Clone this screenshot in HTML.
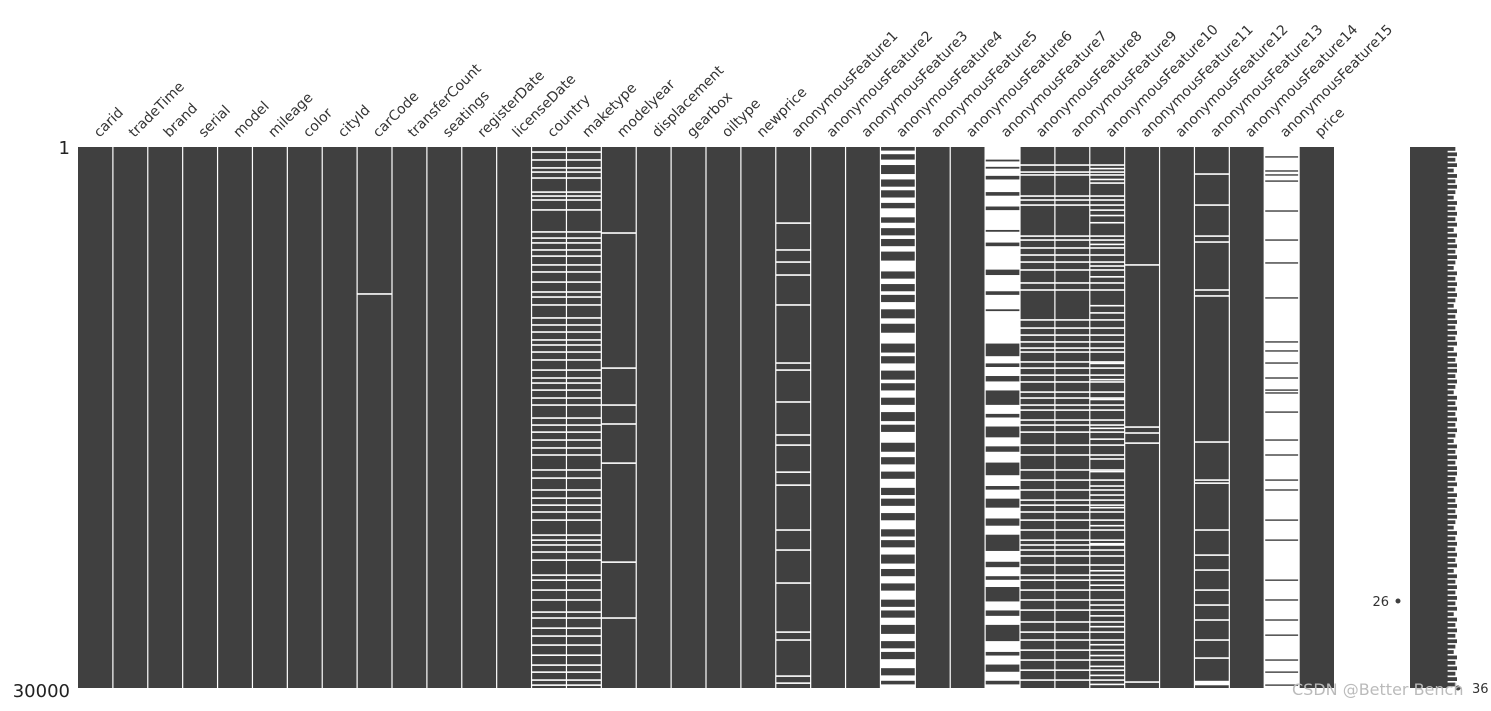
<!DOCTYPE html>
<html><head><meta charset="utf-8"><style>
body{margin:0;background:#fff;}
svg text{font-family:"DejaVu Sans","Liberation Sans",sans-serif;}
</style></head><body>
<svg id="chart" width="1491" height="706" viewBox="0 0 1491 706" xmlns="http://www.w3.org/2000/svg"></svg>
<script>
const columns=["carid","tradeTime","brand","serial","model","mileage","color","cityId","carCode","transferCount","seatings","registerDate","licenseDate","country","maketype","modelyear","displacement","gearbox","oiltype","newprice","anonymousFeature1","anonymousFeature2","anonymousFeature3","anonymousFeature4","anonymousFeature5","anonymousFeature6","anonymousFeature7","anonymousFeature8","anonymousFeature9","anonymousFeature10","anonymousFeature11","anonymousFeature12","anonymousFeature13","anonymousFeature14","anonymousFeature15","price"];
const totalRowsK=30;
const carCodeMissing=[8.15];
const countryMissing=[0.28,0.72,1.16,1.39,1.72,2.5,2.72,2.94,3.49,4.71,5.05,5.32,5.71,6.05,6.54,6.93,7.49,8.04,8.32,8.76,9.48,9.87,10.26,10.7,10.98,11.37,11.81,12.37,12.81,13.09,13.48,13.92,14.31,15.03,15.42,15.81,16.25,16.69,17.08,17.91,18.36,19.02,19.47,19.86,20.24,20.69,21.52,21.8,22.07,22.46,22.91,23.74,24.02,24.57,25.12,25.79,26.12,26.68,27.12,27.62,28.18,28.73,29.12,29.56,29.84];
const modelyearMissing=[4.77,12.26,14.31,15.36,17.53,23.02,26.12];
const af1Missing=[4.22,5.71,6.38,7.1,8.76,11.98,12.37,14.14,15.97,16.53,18.03,18.75,21.24,22.35,24.18,26.9,27.34,29.34,29.73];
const af7Missing=[1.0,1.39,1.55,2.72,2.94,3.22,4.94,5.16,5.6,5.99,6.38,6.82,7.54,7.93,9.59,10.04,10.43,10.81,11.15,11.37,11.92,12.26,12.65,13.03,13.59,13.92,14.31,14.59,15.14,15.42,15.81,16.53,17.08,17.91,18.47,19.02,19.58,19.86,20.24,20.69,21.24,21.8,22.07,22.35,22.68,23.18,23.74,24.02,24.57,25.12,25.68,26.34,26.9,27.34,27.9,28.45,29.01,29.56];
const af9Extra=[1.2,1.8,2.0,3.5,3.8,4.2,5.4,6.6,7.2,8.8,9.2,12.0,12.9,14.0,15.6,16.2,17.3,18.0,18.8,19.3,20.0,21.0,22.0,23.5,24.3,25.4,26.0,26.6,27.6,28.2,28.8,29.3,29.8];
const af10Missing=[6.54,15.53,15.86,16.42,29.67];
const af13Missing=[1.5,3.22,4.94,5.27,7.93,8.26,16.36,18.47,18.64,21.24,22.63,23.46,24.57,25.4,26.23,27.34,28.34];
const af13Ranges=[[29.6,29.85]];
const af4MissingRanges=[[0.2,0.4],[0.7,1.0],[1.5,1.8],[2.2,2.4],[2.8,3.1],[3.4,3.9],[4.2,4.5],[4.9,5.1],[5.5,5.8],[6.3,6.9],[7.3,7.6],[8.0,8.2],[8.6,9.0],[9.5,9.8],[10.3,10.9],[11.4,11.6],[12.0,12.4],[12.9,13.1],[13.5,13.9],[14.3,14.7],[15.2,15.4],[15.8,16.4],[16.9,17.2],[17.6,18.0],[18.4,18.9],[19.3,19.5],[19.9,20.3],[20.7,21.2],[21.6,21.8],[22.2,22.6],[23.1,23.4],[23.8,24.2],[24.6,25.1],[25.5,25.7],[26.1,26.5],[27.0,27.4],[27.8,28.0],[28.4,28.9],[29.3,29.6],[29.8,30]];
const af6PresentRanges=[[0.7,0.8],[1.1,1.2],[1.6,1.8],[2.5,2.7],[3.3,3.5],[4.6,4.7],[5.3,5.5],[6.8,7.1],[8.0,8.2],[9.0,9.1],[10.9,11.6],[12.0,12.2],[12.7,13.0],[13.5,14.3],[14.8,15.0],[15.5,16.1],[16.6,16.9],[17.5,18.2],[18.8,19.0],[19.5,20.0],[20.6,21.0],[21.5,22.4],[23.0,23.3],[23.8,24.0],[24.4,25.2],[25.7,26.0],[26.5,27.4],[28.0,28.2],[28.7,29.1],[29.6,29.8]];
const af15Present=[0.55,1.33,1.55,1.89,3.55,5.16,6.43,8.37,10.81,11.31,11.98,12.81,13.48,13.64,14.7,16.25,17.08,18.47,19.02,20.69,21.8,24.02,25.12,26.23,27.07,28.45,29.12,29.84];
const sparkValues=[35,36,35,36,34,36,35,36,35,34,36,35,36,35,36,34,36,35,36,35,36,35,34,36,35,36,35,36,35,34,36,35,36,35,36,35,36,34,36,35,36,36,35,36,35,34,36,35,36,35,36,35,36,35,34,36,35,36,35,36,36,35,36,34,36,35,36,35,36,35,34,36,35,36,35,36,35,36,34,36,35,36,35,36,35,36,34,36,35,36,35,36,35,34,36,35,36,35,36,35];
const sparkMin=26, sparkMax=36;

const svg=document.getElementById('chart');
const NS='http://www.w3.org/2000/svg';
const X0=78,X1=1334,Y0=147,Y1=688,GRAY='#404040';
const colW=(X1-X0)/columns.length;
const xCol=i=>X0+i*colW;
const yRow=k=>Y0+k/totalRowsK*(Y1-Y0);
function mk(tag,attrs){const e=document.createElementNS(NS,tag);for(const a in attrs)e.setAttribute(a,attrs[a]);svg.appendChild(e);return e;}

const missingLines={8:carCodeMissing,13:countryMissing,14:countryMissing,15:modelyearMissing,20:af1Missing,27:af7Missing,28:af7Missing,29:af7Missing.concat(af9Extra),30:af10Missing,32:af13Missing};
const missingRanges={23:af4MissingRanges,32:af13Ranges};
const presentRanges={26:af6PresentRanges};
const presentLines={34:af15Present};

columns.forEach((c,i)=>{
  const x=xCol(i);
  const mostlyMissing=(i in presentRanges)||(i in presentLines);
  const col=mk('rect',{x:x,y:Y0,width:colW,height:Y1-Y0,fill:mostlyMissing?'#fff':GRAY});
  
  
  (missingLines[i]||[]).forEach(k=>{const r=mk('rect',{x:x,y:yRow(k)-0.8,width:colW,height:1.6,fill:'#fff'});});
  (missingRanges[i]||[]).forEach(([a,b])=>{const r=mk('rect',{x:x,y:yRow(a),width:colW,height:Math.max(1.5,yRow(b)-yRow(a)),fill:'#fff'});});
  (presentRanges[i]||[]).forEach(([a,b])=>{const r=mk('rect',{x:x,y:yRow(a),width:colW,height:Math.max(1.5,yRow(b)-yRow(a)),fill:GRAY});});
  (presentLines[i]||[]).forEach(k=>{const r=mk('rect',{x:x+1,y:yRow(k)-0.7,width:colW-2,height:1.4,fill:GRAY});});
  const cx=x+colW/2+4;
  const t=mk('text',{x:cx,y:138,'font-size':14,fill:'#333',transform:`rotate(-45 ${cx} 138)`});
  t.textContent=c;
  
  
});
for(let i=1;i<columns.length;i++){const l=mk('line',{x1:xCol(i),x2:xCol(i),y1:Y0,y2:Y1,stroke:'#fff','stroke-width':1.2});}

const tTop=mk('text',{x:70,y:154,'font-size':18,fill:'#222','text-anchor':'end'});tTop.textContent='1';

const tBot=mk('text',{x:70,y:697,'font-size':18,fill:'#222','text-anchor':'end'});tBot.textContent='30000';


const SL=1410, SR=1457;
const sx=v=>SL+ (v-sparkMin)/(sparkMax-sparkMin)*(SR-SL)*0.35 + (SR-SL)*0.65;
const bg=mk('rect',{x:SL,y:Y0,width:(SR-SL)*0.8,height:Y1-Y0,fill:GRAY});

const segH=(Y1-Y0)/sparkValues.length;
sparkValues.forEach((v,i)=>{
  const r=mk('rect',{x:SL,y:Y0+i*segH,width:sx(v)-SL,height:segH*0.7,fill:GRAY});
  
  
});
const d1=mk('circle',{cx:1398,cy:601,r:2.5,fill:GRAY});
const l1=mk('text',{x:1389,y:606,'font-size':13,fill:'#333','text-anchor':'end'});l1.textContent='26';

const d2=mk('circle',{cx:1458,cy:688,r:2.5,fill:GRAY});
const l2=mk('text',{x:1472,y:693,'font-size':13,fill:'#333'});l2.textContent='36';

const wm=mk('text',{x:1292,y:695,'font-size':16,fill:'#bbb'});wm.textContent='CSDN @Better Bench';

</script>
</body></html>
